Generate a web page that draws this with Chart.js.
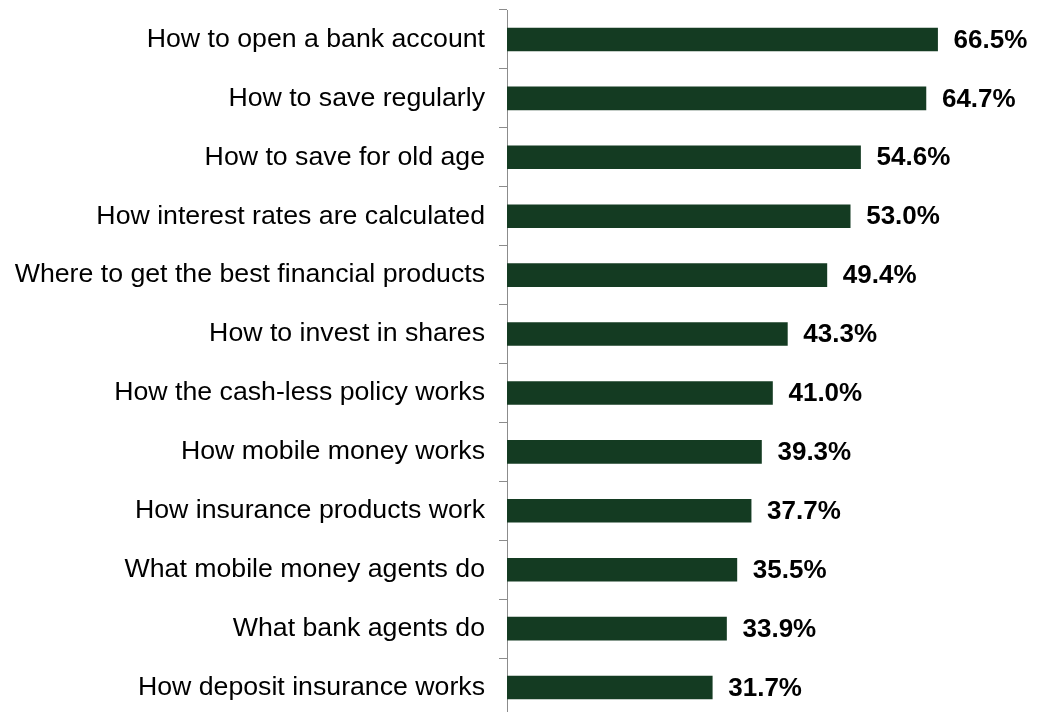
<!DOCTYPE html>
<html>
<head>
<meta charset="utf-8">
<script src="https://cdn.jsdelivr.net/npm/chart.js@4"></script>
<style>
  html, body { margin:0; padding:0; background:#fff; overflow:hidden; }
  #wrap { width:1047px; height:720px; }
</style>
</head>
<body>
<div id="wrap"><canvas id="topics" width="1047" height="720"></canvas></div>
<script>
  // topics people want to learn about, share of respondents (%)
  const topics = [
    'How to open a bank account',
    'How to save regularly',
    'How to save for old age',
    'How interest rates are calculated',
    'Where to get the best financial products',
    'How to invest in shares',
    'How the cash-less policy works',
    'How mobile money works',
    'How insurance products work',
    'What mobile money agents do',
    'What bank agents do',
    'How deposit insurance works'
  ];
  const shares = [66.5, 64.7, 54.6, 53.0, 49.4, 43.3, 41.0, 39.3, 37.7, 35.5, 33.9, 31.7];

  const FONT = '"Liberation Sans", Arial, Helvetica, sans-serif';
  const BAR = '#143b22';
  const AXIS = '#8c8c8c';

  // bold value printed just past the end of each bar
  const valueLabels = {
    id:'valueLabels',
    afterDatasetsDraw(chart){
      const ctx = chart.ctx;
      const meta = chart.getDatasetMeta(0);
      ctx.save();
      ctx.font = 'bold 26px ' + FONT;
      ctx.fillStyle = '#000';
      ctx.textAlign = 'left';
      ctx.textBaseline = 'middle';
      meta.data.forEach((bar, i) => {
        ctx.fillText(shares[i].toFixed(1) + '%', bar.x + 16, bar.y + 1);
      });
      ctx.restore();
    }
  };

  new Chart(document.getElementById('topics'), {
    type:'bar',
    data:{
      labels:topics,
      datasets:[{ data:shares, backgroundColor:BAR, borderWidth:0, barThickness:23 }]
    },
    options:{
      indexAxis:'y',
      responsive:false,
      animation:false,
      layout:{ padding:{ top:10, bottom:3, right:22, left:0 } },
      plugins:{ legend:{ display:false }, tooltip:{ enabled:false } },
      scales:{
        x:{ display:false, min:0, max:80 },
        y:{
          afterFit(scale){
            scale.width = 507;
            // no extra room above/below for the first and last label
            scale.paddingTop = 0;
            scale.paddingBottom = 0;
          },
          border:{ display:true, color:AXIS, width:1 },
          grid:{ display:true, drawOnChartArea:false, drawTicks:true, tickLength:8, color:AXIS, offset:true },
          ticks:{ color:'#000', padding:14, font:{ family:FONT, size:26.7 } }
        }
      }
    },
    plugins:[valueLabels]
  });
</script>
</body>
</html>
